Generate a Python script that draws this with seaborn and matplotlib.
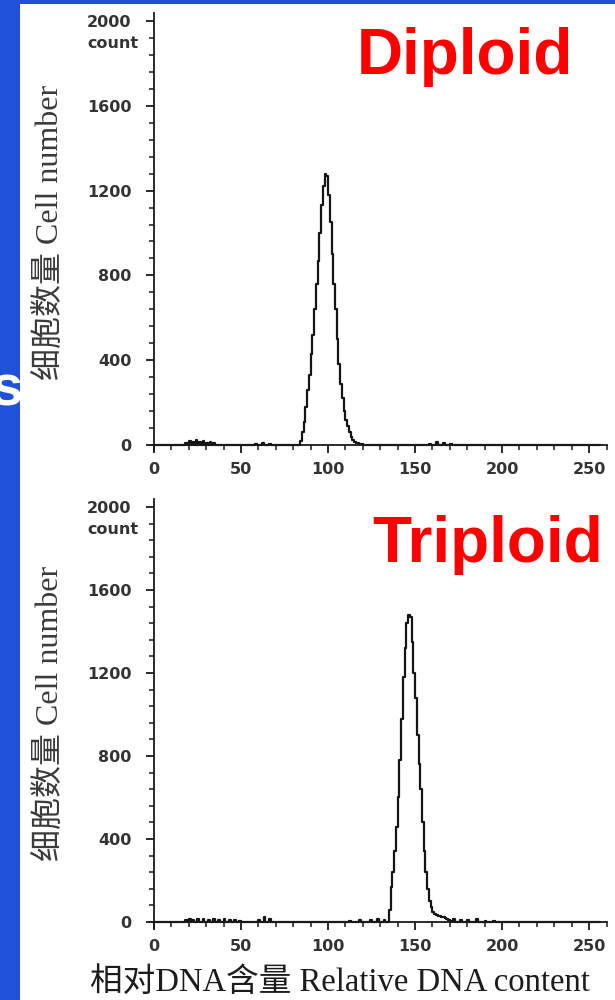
import numpy as np
import pandas as pd
import matplotlib
matplotlib.use("Agg")
import matplotlib.pyplot as plt
import matplotlib.transforms as mtransforms
from matplotlib.patches import Rectangle
from matplotlib.ticker import MultipleLocator
import seaborn as sns

# flow cytometry histograms, counts per DNA channel (channels not listed = 0)
dip_peak_start = 83
dip_peak_counts = [0, 20, 60, 110, 180, 260, 330, 430, 520, 640, 760, 870, 1000,
                   1130, 1220, 1280, 1270, 1180, 1050, 900, 760, 640, 500, 380,
                   290, 220, 160, 120, 90, 60, 40, 25, 15, 10, 8, 5, 3, 2]
dip_noise_ch = [18, 20, 22, 24, 26, 28, 30, 32, 34, 58, 62, 66, 158, 162, 166, 170]
dip_noise_ct = [10, 18, 12, 22, 15, 20, 10, 14, 8, 6, 8, 5, 6, 12, 8, 5]

tri_peak_start = 134
tri_peak_counts = [0, 60, 170, 240, 340, 460, 600, 780, 980, 1180, 1320, 1440,
                   1480, 1470, 1350, 1200, 1080, 900, 760, 640, 480, 340, 240,
                   160, 100, 70, 50, 40, 35, 30, 28, 25, 22, 18, 12, 8, 6]
tri_noise_ch = [18, 20, 22, 25, 28, 31, 34, 37, 40, 43, 46, 49, 60, 63, 66,
                112, 118, 124, 128, 132, 172, 176, 180, 185, 190, 195]
tri_noise_ct = [8, 14, 10, 16, 12, 10, 14, 9, 12, 8, 10, 6, 10, 22, 12,
                5, 8, 10, 12, 8, 14, 10, 8, 12, 7, 5]

x_ticks = [0, 50, 100, 150, 200, 250]
y_ticks = [0, 400, 800, 1200, 1600, 2000]
titles = ["Diploid", "Triploid"]
ylabel = "细胞数量 Cell number"
xlabel = "相对DNA含量 Relative DNA content"


def make_df(start, peak, noise_ch, noise_ct):
    ch = list(range(start, start + len(peak))) + noise_ch
    ct = list(peak) + noise_ct
    return pd.DataFrame({"channel": ch, "count": ct})


dfs = [make_df(dip_peak_start, dip_peak_counts, dip_noise_ch, dip_noise_ct),
       make_df(tri_peak_start, tri_peak_counts, tri_noise_ch, tri_noise_ct)]

sns.set_style("white")
serif = ["Liberation Serif", "Noto Sans CJK SC"]
tick_font = dict(family="DejaVu Sans", weight="bold", size=11.5, color="#333333")

fig = plt.figure(figsize=(6.15, 10), dpi=100)
fig.patch.set_facecolor("#1f52d9")
fig.patches.append(Rectangle((20 / 615, 0), 1, 0.996, transform=fig.transFigure,
                             facecolor="white", edgecolor="none", zorder=-10))
fig.text(-0.014, 0.61, "s", color="white", fontsize=42, weight="bold",
         family="Liberation Sans", va="center")

axes_pos = [[0.2447, 0.5486, 0.7415, 0.4389],
            [0.2447, 0.0718, 0.7415, 0.4295]]
title_pos = [(357 / 615, 1 - 74 / 1000), (372 / 615, 1 - 562 / 1000)]

for i, df in enumerate(dfs):
    ax = fig.add_axes(axes_pos[i])
    ax.set_facecolor("none")
    sns.histplot(data=df, x="channel", weights="count", binwidth=1, binrange=(0, 256),
                 element="step", fill=False, color="#151515", linewidth=1.6, ax=ax)
    ax.set_xlim(-2, 260)
    ax.set_ylim(-30, 2040)
    for s in ["top", "right"]:
        ax.spines[s].set_visible(False)
    ax.spines["left"].set_position(("data", 0))
    ax.spines["bottom"].set_position(("data", 0))
    for s in ["left", "bottom"]:
        ax.spines[s].set_color("#1a1a1a")
        ax.spines[s].set_linewidth(1.3)
    ax.set_xticks(x_ticks)
    ax.set_yticks(y_ticks)
    ax.xaxis.set_minor_locator(MultipleLocator(10))
    ax.yaxis.set_minor_locator(MultipleLocator(80))
    ax.tick_params(which="major", direction="out", length=6, width=1.3, color="#1a1a1a",
                   pad=6, left=True, bottom=True)
    ax.tick_params(which="minor", direction="out", length=3.5, width=1.1, color="#1a1a1a",
                   left=True, bottom=True)
    ax.tick_params(axis="y", which="major", pad=10)
    for lab in ax.get_xticklabels() + ax.get_yticklabels():
        lab.set_fontproperties(matplotlib.font_manager.FontProperties(
            family="DejaVu Sans", weight="bold", size=11.5))
        lab.set_color("#333333")
    ax.set_xlabel("")
    ax.set_ylabel("")
    trans = mtransforms.blended_transform_factory(ax.transAxes, ax.transData)
    ax.text(-0.027, 1930, "count", transform=trans, ha="right", va="top", **tick_font)
    # y label
    ax.text(-0.218, 0.5, ylabel, transform=ax.transAxes, rotation=90, ha="center",
            va="center", family=serif, fontsize=23, color="#3a3a3a")
    fig.text(title_pos[i][0], title_pos[i][1], titles[i], color="#ff0000",
             fontsize=46, weight="bold", family="Liberation Sans", va="baseline")

fig.text(340 / 615, 0.009, xlabel, ha="center", va="baseline", family=serif,
         fontsize=23.5, color="#1c1c1c")

fig.savefig("out.png", dpi=100, facecolor=fig.get_facecolor())
